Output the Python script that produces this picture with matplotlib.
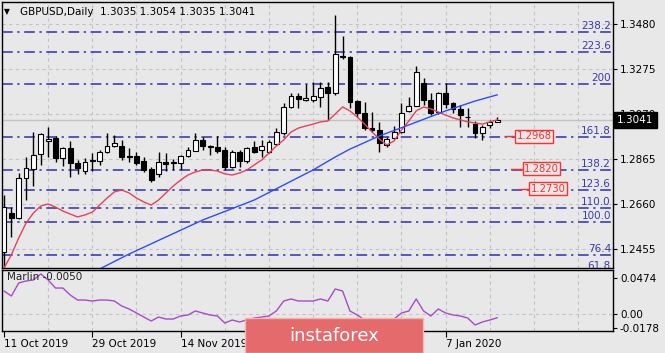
import matplotlib
matplotlib.use("Agg")
import matplotlib.pyplot as plt
import matplotlib.transforms as mtransforms
from matplotlib.patches import Rectangle

W, H = 665, 353
BG = "#e8e8e8"

# daily candles (bar index 0 = 11 Oct 2019)
opens = [1.2440, 1.2619, 1.2596, 1.2778, 1.2819, 1.2888, 1.2947, 1.2961, 1.2870, 1.2915,
         1.2847, 1.2810, 1.2856, 1.2856, 1.2897, 1.2924, 1.2924, 1.2879, 1.2879, 1.2856,
         1.2819, 1.2797, 1.2851, 1.2847, 1.2847, 1.2879, 1.2901, 1.2952, 1.2920, 1.2920,
         1.2906, 1.2829, 1.2897, 1.2856, 1.2920, 1.2906, 1.2897, 1.2933, 1.2984, 1.3102,
         1.3152, 1.3134, 1.3134, 1.3147, 1.3193, 1.3166, 1.3330, 1.3330, 1.3129, 1.3075,
         1.3006, 1.2997, 1.2929, 1.2961, 1.2988, 1.3084, 1.3106, 1.3211, 1.3134, 1.3079,
         1.3166, 1.3120, 1.3093, 1.3056, 1.3024, 1.2984, 1.3020, 1.3035]
highs = [1.2701, 1.2646, 1.2801, 1.2874, 1.2988, 1.2984, 1.3011, 1.2970, 1.2920, 1.2947,
         1.2860, 1.2870, 1.2892, 1.2906, 1.2984, 1.2974, 1.2952, 1.2915, 1.2897, 1.2874,
         1.2829, 1.2897, 1.2892, 1.2865, 1.2883, 1.2920, 1.2984, 1.2965, 1.2929, 1.2970,
         1.2920, 1.2906, 1.2906, 1.2920, 1.2947, 1.2952, 1.2952, 1.3006, 1.3120, 1.3166,
         1.3166, 1.3207, 1.3216, 1.3216, 1.3216, 1.3521, 1.3425, 1.3334, 1.3134, 1.3125,
         1.3079, 1.3034, 1.2965, 1.3015, 1.3120, 1.3147, 1.3289, 1.3234, 1.3166, 1.3170,
         1.3211, 1.3125, 1.3111, 1.3097, 1.3038, 1.3020, 1.3043, 1.3054]
lows = [1.2350, 1.2510, 1.2592, 1.2678, 1.2742, 1.2838, 1.2874, 1.2851, 1.2833, 1.2783,
        1.2797, 1.2797, 1.2810, 1.2838, 1.2892, 1.2920, 1.2860, 1.2851, 1.2838, 1.2806,
        1.2760, 1.2783, 1.2810, 1.2815, 1.2815, 1.2874, 1.2901, 1.2906, 1.2883, 1.2892,
        1.2815, 1.2824, 1.2829, 1.2847, 1.2892, 1.2874, 1.2892, 1.2929, 1.2974, 1.3097,
        1.3097, 1.3129, 1.3125, 1.3102, 1.3043, 1.3157, 1.3320, 1.3097, 1.3056, 1.2997,
        1.2988, 1.2897, 1.2920, 1.2956, 1.2984, 1.3079, 1.3106, 1.3111, 1.3065, 1.3070,
        1.3097, 1.3075, 1.3011, 1.3011, 1.2961, 1.2952, 1.3006, 1.3035]
closes = [1.2646, 1.2596, 1.2778, 1.2824, 1.2883, 1.2979, 1.2956, 1.2870, 1.2915, 1.2847,
          1.2824, 1.2851, 1.2860, 1.2897, 1.2924, 1.2938, 1.2874, 1.2876, 1.2847, 1.2815,
          1.2769, 1.2851, 1.2842, 1.2849, 1.2879, 1.2906, 1.2952, 1.2924, 1.2922, 1.2901,
          1.2829, 1.2897, 1.2856, 1.2915, 1.2897, 1.2924, 1.2942, 1.2988, 1.3102, 1.3152,
          1.3138, 1.3143, 1.3152, 1.3188, 1.3166, 1.3343, 1.3334, 1.3125, 1.3075, 1.3006,
          1.2997, 1.2938, 1.2956, 1.2988, 1.3075, 1.3106, 1.3261, 1.3134, 1.3075, 1.3166,
          1.3116, 1.3093, 1.3065, 1.3054, 1.2984, 1.3011, 1.3034, 1.3041]

# fast moving average (red), one value per bar
red_ma = [1.2368, 1.2428, 1.2505, 1.2573, 1.2619, 1.2651, 1.2660, 1.2646, 1.2628, 1.2614,
          1.2601, 1.2610, 1.2623, 1.2655, 1.2687, 1.2715, 1.2724, 1.2710, 1.2687, 1.2669,
          1.2655, 1.2678, 1.2710, 1.2742, 1.2769, 1.2792, 1.2806, 1.2815, 1.2815, 1.2810,
          1.2797, 1.2792, 1.2801, 1.2815, 1.2838, 1.2860, 1.2892, 1.2924, 1.2952, 1.2988,
          1.3006, 1.3015, 1.3024, 1.3034, 1.3038, 1.3070, 1.3102, 1.3084, 1.3056, 1.3024,
          1.2988, 1.2956, 1.2929, 1.2947, 1.2997, 1.3038, 1.3084, 1.3102, 1.3093, 1.3079,
          1.3065, 1.3052, 1.3043, 1.3034, 1.3029, 1.3024, 1.3034, 1.3043]

# slow moving average (blue), read at its bends
blue_bars = [13, 17, 27, 34, 42, 45, 47, 51, 55, 60, 64, 67]
blue_ma = [1.2364, 1.2432, 1.2587, 1.2678, 1.2815, 1.2874, 1.2910, 1.2970, 1.3020, 1.3084,
           1.3129, 1.3157]

# Marlin oscillator, one value per bar
marlin = [0.0303, 0.0237, 0.0408, 0.0435, 0.0448, 0.0527, 0.0448, 0.0342, 0.0342, 0.0250,
          0.0184, 0.0184, 0.0171, 0.0184, 0.0184, 0.0171, 0.0105, 0.0066, 0.0013, -0.0040,
          -0.0092, -0.0040, -0.0066, -0.0066, -0.0026, -0.0013, 0.0040, 0.0013, -0.0013, -0.0026,
          -0.0119, -0.0079, -0.0105, -0.0079, -0.0053, -0.0040, -0.0026, 0.0040, 0.0171, 0.0198,
          0.0171, 0.0171, 0.0171, 0.0198, 0.0171, 0.0329, 0.0303, 0.0040, -0.0013, -0.0079,
          -0.0145, -0.0184, -0.0145, -0.0066, 0.0013, 0.0040, 0.0198, 0.0040, -0.0026, 0.0066,
          0.0013, -0.0013, -0.0026, -0.0053, -0.0145, -0.0105, -0.0079, -0.0050]

fib_labels = ["238.2", "223.6", "200", "161.8", "138.2", "123.6", "110.0", "100.0", "76.4", "61.8"]
fib_prices = [1.3444, 1.3352, 1.3207, 1.2965, 1.2815, 1.2724, 1.2642, 1.2578, 1.2428, 1.2352]

price_ticks = [1.3480, 1.3275, 1.3070, 1.2865, 1.2660, 1.2455]
marlin_ticks = [0.0474, 0.0, -0.0178]
marlin_tick_labels = ["0.0474", "0.00", "-0.0178"]

date_bars = [0, 12, 24, 60]
date_labels = ["11 Oct 2019", "29 Oct 2019", "14 Nov 2019", "7 Jan 2020"]

note_prices = [1.2968, 1.2820, 1.2730]
note_start = [68.0, 68.9, 70.0]
note_box = [69.4, 70.4, 71.3]

last_price = 1.3041
marlin_now = -0.0050
title = "GBPUSD,Daily  1.3035 1.3054 1.3035 1.3041"


def fx(px):
    return px / W


def fy(py):
    return 1 - py / H


fig = plt.figure(figsize=(W / 100, H / 100), dpi=100, facecolor=BG)
ax = fig.add_axes([fx(2), fy(268), fx(613) - fx(2), fy(2) - fy(268)], facecolor=BG)
ax2 = fig.add_axes([fx(2), fy(331), fx(613) - fx(2), fy(270) - fy(331)], facecolor=BG)

xlo, xhi = -0.27, 82.74
grid_kw = dict(color="#c3c3c3", lw=0.8, ls=(0, (3, 3)), zorder=0.5)

# ---- price panel ----
ax.set_xlim(xlo, xhi)
ax.set_ylim(1.23683, 1.35802)
for k in range(6, 83, 6):
    ax.axvline(k, **grid_kw)
for p in price_ticks:
    ax.axhline(p, **grid_kw)

for lab, p in zip(fib_labels, fib_prices):
    ax.axhline(p, color="#2e2eb4", lw=1.1, ls=(0, (7, 3, 1.5, 3)), zorder=1)
    ax.text(82.45, p + 0.0004, lab, ha="right", va="bottom", color="#3a3ab0",
            fontsize=7.5, clip_on=True, zorder=2)

ax.axhline(last_price, color="#c2c2c2", lw=1, zorder=1.5)

bars = range(len(opens))
ax.vlines(bars, lows, highs, color="black", lw=1, zorder=3)
bottoms = [min(o, c) for o, c in zip(opens, closes)]
heights = [max(abs(c - o), 0.00003) for o, c in zip(opens, closes)]
fills = ["white" if c >= o else "black" for o, c in zip(opens, closes)]
ax.bar(bars, heights, bottom=bottoms, width=0.66, color=fills, edgecolor="black",
       lw=0.8, zorder=4)

ax.plot(bars, red_ma, color="#e8405c", lw=1, zorder=5)
ax.plot(blue_bars, blue_ma, color="#2f4cff", lw=1, zorder=5)

for p, x0, xb in zip(note_prices, note_start, note_box):
    ax.plot([x0, xb], [p, p], color="#ff3030", lw=1, zorder=5)
    ax.text(xb + 0.25, p, f"{p:.4f}", ha="left", va="center", color="#f03434", fontsize=7.2,
            zorder=6, bbox=dict(boxstyle="square,pad=0.15", fc="#ede6e6", ec="#ff3030", lw=1))

ax.yaxis.tick_right()
ax.set_yticks(price_ticks)
ax.set_yticklabels([f"{p:.4f}" for p in price_ticks])
ax.tick_params(axis="y", length=3, width=0.8, pad=2, labelsize=7.5)
ax.set_xticks([])
for s in ax.spines.values():
    s.set_color("black")
    s.set_linewidth(1)

trans = mtransforms.blended_transform_factory(ax.transAxes, ax.transData)
trans = mtransforms.offset_copy(trans, fig=fig, x=4, y=0, units="dots")
ax.text(1.0, last_price, f"{last_price:.4f}", transform=trans, ha="left", va="center",
        color="white", fontsize=7.5, clip_on=False, zorder=7,
        bbox=dict(boxstyle="square,pad=0.3", fc="black", ec="black"))

# ---- Marlin panel ----
ax2.set_xlim(xlo, xhi)
ax2.set_ylim(-0.02239, 0.05795)
for k in range(6, 83, 6):
    ax2.axvline(k, **grid_kw)
ax2.axhline(0, **grid_kw)
ax2.plot(bars, marlin, color="#a64cc8", lw=1, zorder=3)
ax2.text(0.008, 0.965, f"Marlin {marlin_now:.4f}", transform=ax2.transAxes, ha="left",
         va="top", fontsize=7.5, color="#222222")

ax2.yaxis.tick_right()
ax2.set_yticks(marlin_ticks)
ax2.set_yticklabels(marlin_tick_labels)
ax2.tick_params(axis="y", length=3, width=0.8, pad=2, labelsize=7.5)
ax2.set_xticks(date_bars)
ax2.set_xticklabels(date_labels)
for t in ax2.get_xticklabels():
    t.set_ha("left")
ax2.tick_params(axis="x", length=4, width=0.8, pad=2, labelsize=7.5)
for s in ax2.spines.values():
    s.set_color("black")
    s.set_linewidth(1)

# ---- header and watermark ----
fig.text(fx(4), fy(12), "\u25bc", fontsize=5.5, va="center", ha="left")
fig.text(fx(20), fy(12), title, fontsize=7.5, va="center", ha="left")

fig.add_artist(Rectangle((fx(245), 0), fx(423) - fx(245), 35 / H, transform=fig.transFigure,
                         fc="#e46a6c", ec="#f2b4b4", lw=1, zorder=10))
fig.text(fx(334), fy(336), "instaforex", color="white", fontsize=13, ha="center",
         va="center", zorder=11)

fig.savefig("out.png", dpi=100, facecolor=BG)
